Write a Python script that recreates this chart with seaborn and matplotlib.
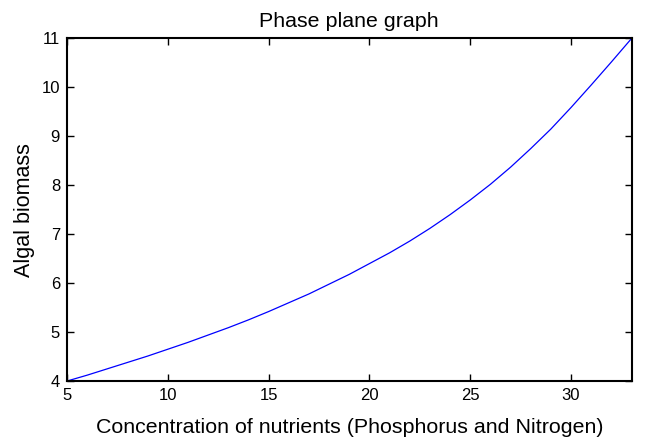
import matplotlib
matplotlib.use("Agg")
import matplotlib.pyplot as plt
import seaborn as sns
import pandas as pd

# Nutrient concentration vs. algal biomass trajectory
nutrients = [5, 6, 7, 8, 9, 10, 11, 12, 13, 14, 15, 16, 17, 18, 19, 20,
             21, 22, 23, 24, 25, 26, 27, 28, 29, 30, 31, 32, 33]
biomass = [4.00, 4.12, 4.25, 4.38, 4.51, 4.65, 4.79, 4.94, 5.09, 5.25,
           5.42, 5.60, 5.78, 5.98, 6.18, 6.40, 6.62, 6.86, 7.12, 7.40,
           7.70, 8.02, 8.37, 8.75, 9.15, 9.59, 10.05, 10.52, 11.00]
x_ticks = [5, 10, 15, 20, 25, 30]
y_ticks = [4, 5, 6, 7, 8, 9, 10, 11]

sns.set_style("white")
plt.rcParams["font.family"] = ["Liberation Sans", "DejaVu Sans"]
plt.rcParams["text.color"] = "black"
plt.rcParams["axes.labelcolor"] = "black"

df = pd.DataFrame({"nutrients": nutrients, "biomass": biomass})

fig = plt.figure(figsize=(6.46, 4.40), dpi=100)
ax = fig.add_axes([0.1037, 0.134, 0.8739, 0.7785])

sns.lineplot(data=df, x="nutrients", y="biomass", ax=ax, color="#0000ff",
             linewidth=0.9, estimator=None, sort=True)

ax.set_xlim(5, 33)
ax.set_ylim(4, 11)
ax.set_xticks(x_ticks)
ax.set_yticks(y_ticks)
ax.tick_params(direction="in", length=5, width=1.0, labelsize=12,
               top=True, right=True, bottom=True, left=True,
               colors="black", labelcolor="black", pad=5)
for s in ax.spines.values():
    s.set_visible(True)
    s.set_color("black")
    s.set_linewidth(1.5)

ax.set_title("Phase plane graph", fontsize=15.4, pad=8, color="black")
ax.set_xlabel("Concentration of nutrients (Phosphorus and Nitrogen)",
              fontsize=15.4, labelpad=11, color="black")
ax.set_ylabel("Algal biomass", fontsize=15.5, labelpad=5, color="black")

fig.savefig("out.png", dpi=100)
